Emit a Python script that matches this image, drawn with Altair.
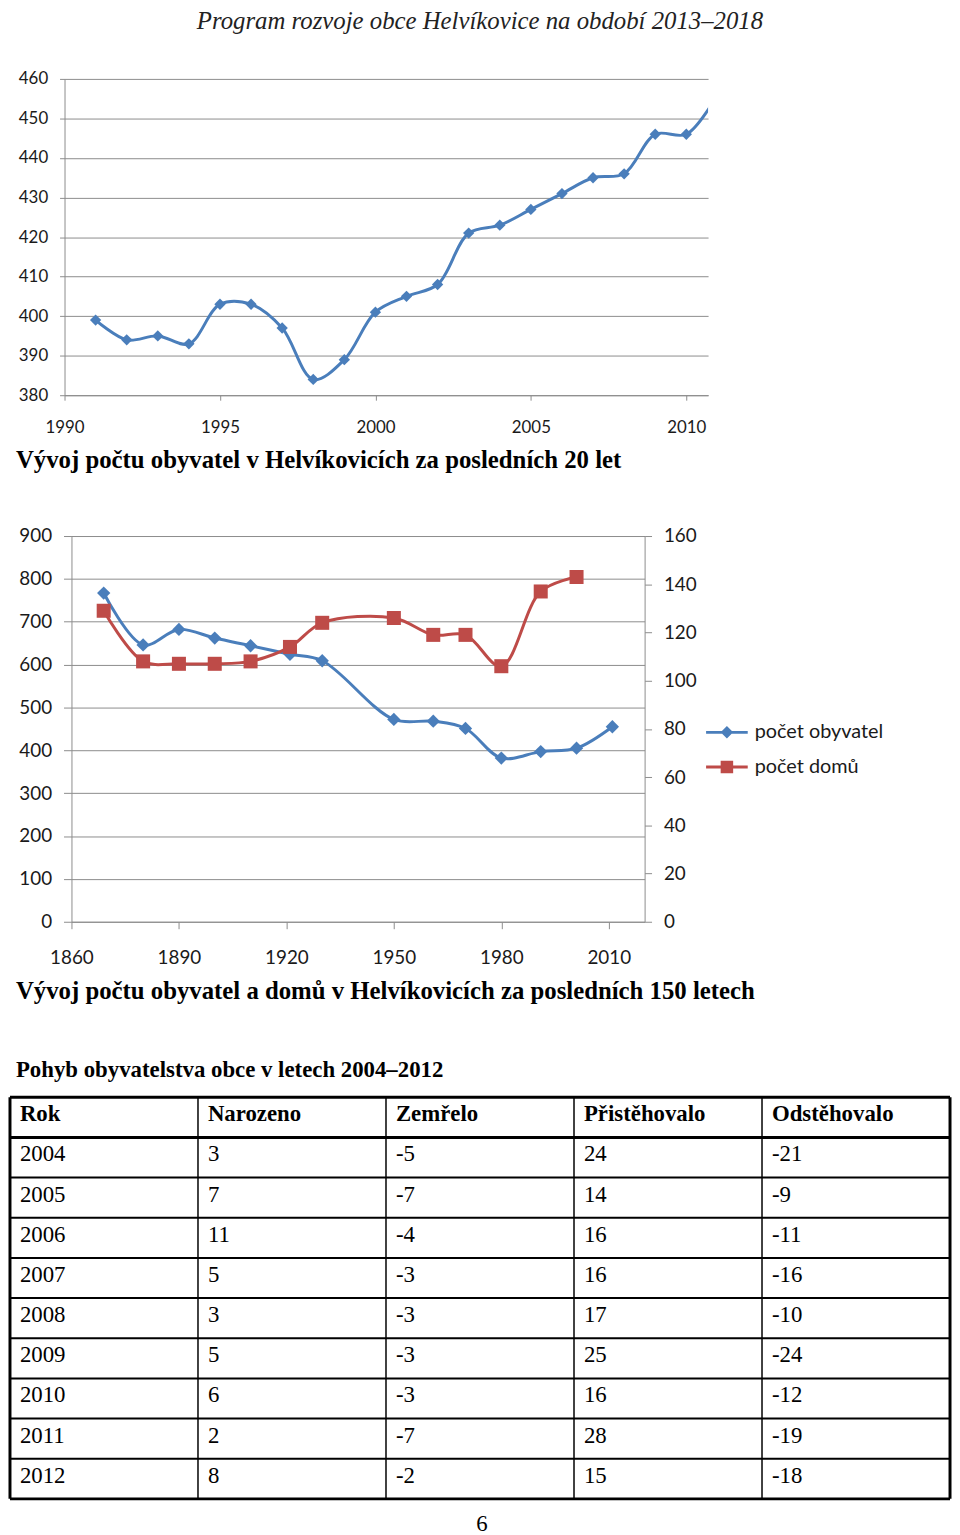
import altair as alt
import pandas as pd

# ---------------- text ----------------
header_text = "Program rozvoje obce Helvíkovice na období 2013–2018"
title1_text = "Vývoj počtu obyvatel v Helvíkovicích za posledních 20 let"
title2_text = "Vývoj počtu obyvatel a domů v Helvíkovicích za posledních 150 letech"
table_title_text = "Pohyb obyvatelstva obce v letech 2004–2012"
page_number = "6"

# ---------------- chart 1 data ----------------
years1 = [1991, 1992, 1993, 1994, 1995, 1996, 1997, 1998, 1999, 2000, 2001,
          2002, 2003, 2004, 2005, 2006, 2007, 2008, 2009, 2010, 2011]
pop1 = [399, 394, 395, 393, 403, 403, 397, 384, 389, 401, 405,
        408, 421, 423, 427, 431, 435, 436, 446, 446, 456]
x1_ticks = [1990, 1995, 2000, 2005, 2010]
y1_ticks = [380, 390, 400, 410, 420, 430, 440, 450, 460]

# ---------------- chart 2 data ----------------
series_names = ["počet obyvatel", "počet domů"]
years_pop = [1869, 1880, 1890, 1900, 1910, 1921, 1930, 1950, 1961, 1970, 1980, 1991, 2001, 2011]
pop2 = [767, 646, 682, 662, 644, 624, 609, 472, 468, 451, 382, 397, 405, 455]
years_houses = [1869, 1880, 1890, 1900, 1910, 1921, 1930, 1950, 1961, 1970, 1980, 1991, 2001]
houses = [129, 108, 107, 107, 108, 114, 124, 126, 119, 119, 106, 137, 143]
x2_ticks = [1860, 1890, 1920, 1950, 1980, 2010]
yl_ticks = [0, 100, 200, 300, 400, 500, 600, 700, 800, 900]
yr_ticks = [0, 20, 40, 60, 80, 100, 120, 140, 160]

# ---------------- table data ----------------
table_header = ["Rok", "Narozeno", "Zemřelo", "Přistěhovalo", "Odstěhovalo"]
table_years = [2004, 2005, 2006, 2007, 2008, 2009, 2010, 2011, 2012]
born = [3, 7, 11, 5, 3, 5, 6, 2, 8]
died = [-5, -7, -4, -3, -3, -3, -3, -7, -2]
moved_in = [24, 14, 16, 16, 17, 25, 16, 28, 15]
moved_out = [-21, -9, -11, -16, -10, -24, -12, -19, -18]

# ---------------- styles ----------------
BLUE = "#4A7EBB"
RED = "#BE4B48"
GRID = "#8C8C8C"
LABEL = "#1a1a1a"
SANS = "Lato"
SERIF = "Liberation Serif"


def axis(**kw):
    base = dict(title=None, labelFont=SANS, labelColor=LABEL, domainColor=GRID,
                tickColor=GRID, gridColor=GRID, labelFlush=False, labelOverlap=False)
    base.update(kw)
    return alt.Axis(**base)


# ================= chart 1 =================
df1 = pd.DataFrame({"rok": years1, "obyvatel": pop1})
x1 = alt.X("rok:Q", scale=alt.Scale(domain=[1990, 2010.7], range=[-7, 642], nice=False, zero=False),
           axis=axis(values=x1_ticks, format="d", grid=False, tickSize=5, labelPadding=20,
                     labelFontSize=17))
y1 = alt.Y("obyvatel:Q", scale=alt.Scale(domain=[380, 460], nice=False, zero=False),
           axis=axis(values=y1_ticks, grid=True, offset=7, tickSize=5, labelPadding=12,
                     labelFontSize=17))
line1 = alt.Chart(df1).mark_line(color=BLUE, strokeWidth=3, interpolate="catmull-rom",
                                 clip=True).encode(x=x1, y=y1)
pts1 = alt.Chart(df1).mark_point(shape="diamond", filled=True, size=130, color=BLUE,
                                 opacity=1, clip=True).encode(x=x1, y=y1)
chart1 = alt.layer(line1, pts1).properties(
    width=642, height=319,
    title=alt.TitleParams(title1_text, orient="bottom", anchor="start", frame="group", dx=-56,
                          offset=12, font=SERIF, fontSize=25, fontWeight="bold", color="black"))

# ================= chart 2 =================
df_pop = pd.DataFrame({"rok": years_pop, "hodnota": pop2, "serie": series_names[0]})
df_houses = pd.DataFrame({"rok": years_houses, "hodnota": houses, "serie": series_names[1]})
df_leg = pd.concat([df_pop.head(1), df_houses.head(1)])

x2 = alt.X("rok:Q", scale=alt.Scale(domain=[1860, 2020], nice=False, zero=False),
           axis=axis(values=x2_ticks, format="d", grid=False, tickSize=7, labelPadding=20,
                     labelFontSize=19))
y_left = alt.Y("hodnota:Q", scale=alt.Scale(domain=[0, 900], nice=False),
               axis=axis(values=yl_ticks, grid=True, orient="left", tickSize=8, labelPadding=12,
                         labelFontSize=19))
y_right = alt.Y("hodnota:Q", scale=alt.Scale(domain=[0, 160], nice=False),
                axis=axis(values=yr_ticks, grid=False, orient="right", tickSize=7, labelPadding=12,
                          labelFontSize=19))

PATH_D = "M-1,-0.07L1,-0.07L1,0.07L-1,0.07Z M0,-0.3L0.3,0L0,0.3L-0.3,0Z"
PATH_S = "M-1,-0.07L1,-0.07L1,0.07L-1,0.07Z M-0.3,-0.3L0.3,-0.3L0.3,0.3L-0.3,0.3Z"
leg = dict(title=None, orient="none", legendX=640, legendY=177, symbolOpacity=1,
           symbolSize=1764, symbolStrokeWidth=0, labelFont=SANS, labelFontSize=20,
           labelColor=LABEL, labelOffset=7, rowPadding=4, padding=0)

pop_line = alt.Chart(df_pop).mark_line(color=BLUE, strokeWidth=3, interpolate="catmull-rom").encode(
    x=x2, y=y_left)
pop_pts = alt.Chart(df_pop).mark_point(shape="diamond", filled=True, size=180, color=BLUE,
                                       opacity=1).encode(x=x2, y=y_left)
legend_layer = alt.Chart(df_leg).mark_point(filled=True, opacity=0).encode(
    x=x2, y=y_left,
    color=alt.Color("serie:N", scale=alt.Scale(domain=series_names, range=[BLUE, RED]),
                    legend=alt.Legend(**leg)),
    shape=alt.Shape("serie:N", scale=alt.Scale(domain=series_names, range=[PATH_D, PATH_S]),
                    legend=alt.Legend(**leg)))
house_line = alt.Chart(df_houses).mark_line(color=RED, strokeWidth=3, interpolate="catmull-rom").encode(
    x=x2, y=y_right)
house_pts = alt.Chart(df_houses).mark_point(shape="square", filled=True, size=200, color=RED,
                                            opacity=1).encode(x=x2, y=y_right)

chart2 = alt.layer(
    alt.layer(pop_line, pop_pts, legend_layer),
    alt.layer(house_line, house_pts),
).resolve_scale(y="independent").properties(
    width=578, height=389,
    title=alt.TitleParams(title2_text, orient="bottom", anchor="start", frame="group", dx=-56,
                          offset=12, font=SERIF, fontSize=25, fontWeight="bold", color="black"))

# ================= table =================
n_rows = len(table_years) + 1
n_cols = len(table_header)

cells = []
for c, h in enumerate(table_header):
    cells.append({"r": 0.5, "c": c, "t": h, "head": 1})
for i, vals in enumerate(zip(table_years, born, died, moved_in, moved_out)):
    for c, v in enumerate(vals):
        cells.append({"r": i + 1.5, "c": c, "t": str(v), "head": 0})
df_head = pd.DataFrame([d for d in cells if d["head"] == 1])
df_body = pd.DataFrame([d for d in cells if d["head"] == 0])

h_lines = pd.DataFrame({"b": list(range(n_rows + 1)),
                        "w": [3, 3] + [2] * (n_rows - 2) + [3],
                        "a": 0, "z": n_cols})
v_lines = pd.DataFrame({"b": list(range(n_cols + 1)),
                        "w": [3] + [1.5] * (n_cols - 1) + [3],
                        "a": 0, "z": n_rows})

tx = alt.Scale(domain=[0, n_cols], range=[-62, 886], nice=False, zero=False)
ty = alt.Scale(domain=[0, n_rows], range=[0, 405], nice=False, zero=False)

head_text = alt.Chart(df_head).mark_text(
    align="left", baseline="middle", dx=10, dy=-3, font=SERIF, fontSize=23, fontWeight="bold",
    color="black").encode(x=alt.X("c:Q", scale=tx, axis=None),
                          y=alt.Y("r:Q", scale=ty, axis=None), text="t:N")
body_text = alt.Chart(df_body).mark_text(
    align="left", baseline="middle", dx=10, dy=-3, font=SERIF, fontSize=23,
    color="black").encode(x=alt.X("c:Q", scale=tx, axis=None),
                          y=alt.Y("r:Q", scale=ty, axis=None), text="t:N")
h_rules = alt.Chart(h_lines).mark_rule(color="black").encode(
    y=alt.Y("b:Q", scale=ty, axis=None),
    x=alt.X("a:Q", scale=tx, axis=None), x2="z:Q",
    strokeWidth=alt.StrokeWidth("w:Q", scale=None))
v_rules = alt.Chart(v_lines).mark_rule(color="black").encode(
    x=alt.X("b:Q", scale=tx, axis=None),
    y=alt.Y("a:Q", scale=ty, axis=None), y2="z:Q",
    strokeWidth=alt.StrokeWidth("w:Q", scale=None))
page_layer = alt.Chart(pd.DataFrame({"t": [page_number]})).mark_text(
    align="center", baseline="middle", font=SERIF, fontSize=23, color="black").encode(
    x=alt.value(414), y=alt.value(430), text="t:N")

table = alt.layer(v_rules, h_rules, head_text, body_text, page_layer).properties(
    width=886, height=405,
    title=alt.TitleParams(table_title_text, orient="top", anchor="start", frame="group", dx=-56,
                          offset=14, font=SERIF, fontSize=23, fontWeight="bold", color="black"))

chart = alt.vconcat(chart1, chart2, table, spacing=55).resolve_legend(
    color="independent", shape="independent"
).properties(
    title=alt.TitleParams(header_text, anchor="middle", font=SERIF, fontStyle="italic",
                          fontSize=25, fontWeight="normal", color="#222222", offset=36),
    padding={"left": 0, "top": -5, "right": 0, "bottom": 0},
).configure_view(stroke=None)

chart.save("out.html", embed_options={"renderer": "svg", "actions": False})
